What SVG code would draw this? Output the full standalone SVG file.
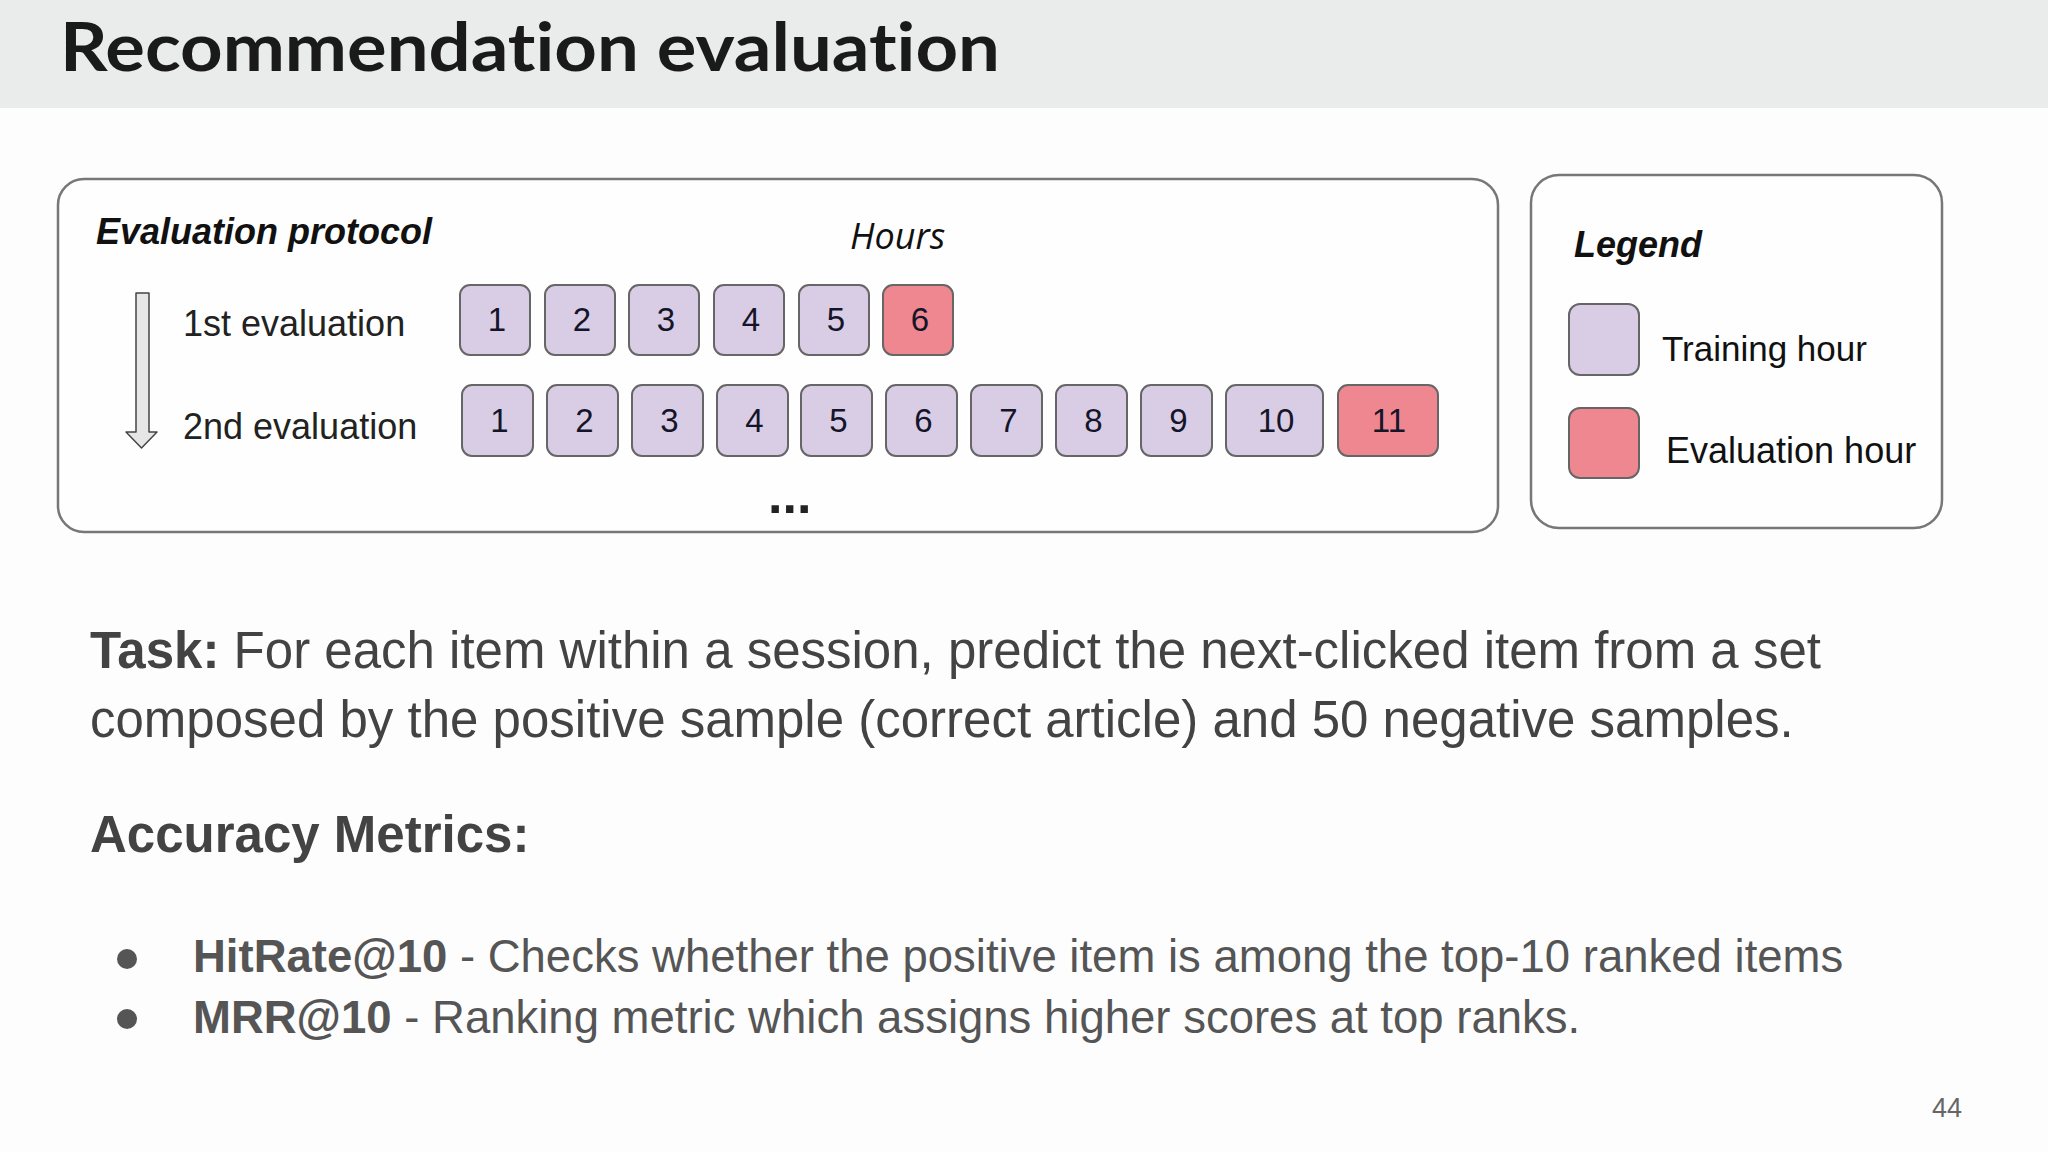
<svg xmlns="http://www.w3.org/2000/svg" width="2048" height="1152" viewBox="0 0 2048 1152">
<style>
.sans{font-family:"Liberation Sans",Arial,sans-serif}
.hr{fill:#d9cde6;stroke:#666;stroke-width:2}
.ev{fill:#ef8790;stroke:#666;stroke-width:2}
.num{font-family:"Liberation Sans",Arial,sans-serif;font-size:33px;fill:#15152a;text-anchor:middle}
.frame{fill:#fefefe;stroke:#777;stroke-width:2.5}
.lbl{font-family:"Liberation Sans",Arial,sans-serif;font-size:36px;fill:#222}
.hd{font-family:"Liberation Sans",Arial,sans-serif;font-size:36px;font-weight:bold;font-style:italic;fill:#111}
.body{font-family:"Liberation Sans",Arial,sans-serif;font-size:51px;fill:#434343}
.bul{font-family:"Liberation Sans",Arial,sans-serif;font-size:45.5px;fill:#555}
</style>
<rect x="0" y="0" width="2048" height="1152" fill="#fdfdfe"/>
<rect x="0" y="0" width="2048" height="108" fill="#e9eceb"/>
<text x="60" y="71" font-family="Lato,'Open Sans',sans-serif" font-weight="bold" font-size="67" fill="#1a1a1a" style="font-variant-ligatures:none" textLength="940" lengthAdjust="spacingAndGlyphs">Recommendation evaluation</text>

<g id="protocol-panel">
<rect class="frame" x="58" y="179" width="1440" height="353" rx="26"/>
<text class="hd" x="96" y="244">Evaluation protocol</text>
<text x="850" y="249" font-family="'Open Sans',sans-serif" font-style="italic" font-size="36" fill="#111">Hours</text>
<text class="lbl" x="183" y="336">1st evaluation</text>
<text class="lbl" x="183" y="439">2nd evaluation</text>
<text class="sans" x="768" y="513" font-size="52" font-weight="bold" fill="#222">...</text>
</g>

<g id="connectors">
<path d="M136 293 H149 V432 H157 L141.5 448 L126 432 H136 Z" fill="#e6e6e6" stroke="#444" stroke-width="1.5" stroke-linejoin="round"/>
</g>

<g id="eval1">
<g id="e1h1"><rect class="hr" x="460" y="285" width="70" height="70" rx="10"/><text class="num" x="497" y="331">1</text></g>
<g id="e1h2"><rect class="hr" x="545" y="285" width="70" height="70" rx="10"/><text class="num" x="582" y="331">2</text></g>
<g id="e1h3"><rect class="hr" x="629" y="285" width="70" height="70" rx="10"/><text class="num" x="666" y="331">3</text></g>
<g id="e1h4"><rect class="hr" x="714" y="285" width="70" height="70" rx="10"/><text class="num" x="751" y="331">4</text></g>
<g id="e1h5"><rect class="hr" x="799" y="285" width="70" height="70" rx="10"/><text class="num" x="836" y="331">5</text></g>
<g id="e1h6"><rect class="ev" x="883" y="285" width="70" height="70" rx="10"/><text class="num" x="920" y="331">6</text></g>
</g>

<g id="eval2">
<g id="e2h1"><rect class="hr" x="462" y="385" width="71" height="71" rx="10"/><text class="num" x="499.5" y="432">1</text></g>
<g id="e2h2"><rect class="hr" x="547" y="385" width="71" height="71" rx="10"/><text class="num" x="584.5" y="432">2</text></g>
<g id="e2h3"><rect class="hr" x="632" y="385" width="71" height="71" rx="10"/><text class="num" x="669.5" y="432">3</text></g>
<g id="e2h4"><rect class="hr" x="717" y="385" width="71" height="71" rx="10"/><text class="num" x="754.5" y="432">4</text></g>
<g id="e2h5"><rect class="hr" x="801" y="385" width="71" height="71" rx="10"/><text class="num" x="838.5" y="432">5</text></g>
<g id="e2h6"><rect class="hr" x="886" y="385" width="71" height="71" rx="10"/><text class="num" x="923.5" y="432">6</text></g>
<g id="e2h7"><rect class="hr" x="971" y="385" width="71" height="71" rx="10"/><text class="num" x="1008.5" y="432">7</text></g>
<g id="e2h8"><rect class="hr" x="1056" y="385" width="71" height="71" rx="10"/><text class="num" x="1093.5" y="432">8</text></g>
<g id="e2h9"><rect class="hr" x="1141" y="385" width="71" height="71" rx="10"/><text class="num" x="1178.5" y="432">9</text></g>
<g id="e2h10"><rect class="hr" x="1226" y="385" width="97" height="71" rx="10"/><text class="num" x="1276" y="432">10</text></g>
<g id="e2h11"><rect class="ev" x="1338" y="385" width="100" height="71" rx="10"/><text class="num" x="1389" y="432">11</text></g>
</g>

<g id="legend">
<rect class="frame" x="1531" y="175" width="411" height="353" rx="28"/>
<text class="hd" x="1574" y="257">Legend</text>
<g id="legend-training"><rect class="hr" x="1569" y="304" width="70" height="71" rx="11"/><text class="sans" x="1662" y="361" font-size="35" fill="#111">Training hour</text></g>
<g id="legend-evaluation"><rect class="ev" x="1569" y="408" width="70" height="70" rx="11"/><text class="sans" x="1666" y="463" font-size="36" fill="#111">Evaluation hour</text></g>
</g>

<g id="task-text">
<text class="body" x="90" y="668"><tspan font-weight="bold">Task:</tspan> For each item within a session, predict the next-clicked item from a set</text>
<text class="body" x="90" y="737">composed by the positive sample (correct article) and 50 negative samples.</text>
<text class="body" x="90" y="852" font-weight="bold">Accuracy Metrics:</text>
</g>

<g id="metrics">
<circle cx="127" cy="959" r="10" fill="#555"/>
<text class="bul" x="193" y="972"><tspan font-weight="bold">HitRate@10</tspan> - Checks whether the positive item is among the top-10 ranked items</text>
<circle cx="127" cy="1019" r="10" fill="#555"/>
<text class="bul" x="193" y="1033"><tspan font-weight="bold">MRR@10</tspan> - Ranking metric which assigns higher scores at top ranks.</text>
</g>

<text class="sans" x="1932" y="1117" font-size="27" fill="#666">44</text>
</svg>
